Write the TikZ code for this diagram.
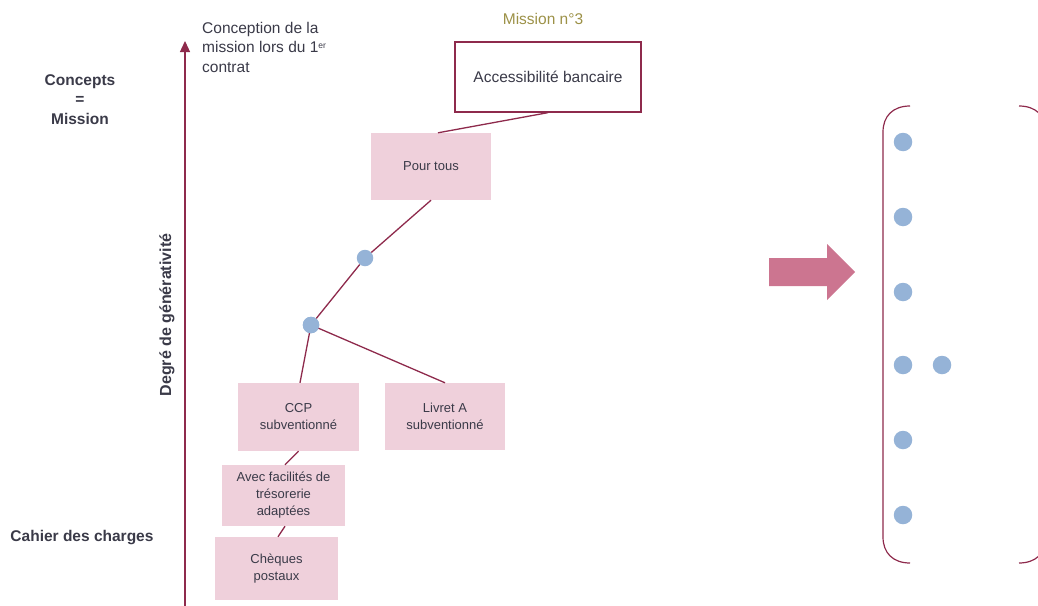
\documentclass[tikz,border=0pt]{standalone}
\usepackage{fontspec}
\setmainfont{Liberation Sans}
\usetikzlibrary{arrows.meta}
\definecolor{maroon}{HTML}{8E2A4C}
\definecolor{pinkfill}{HTML}{EFD0DB}
\definecolor{dotblue}{HTML}{95B3D7}
\definecolor{arrowpink}{HTML}{CC7590}
\definecolor{olivetxt}{HTML}{9C9147}
\definecolor{txt}{HTML}{3A3A48}
\begin{document}
\begin{tikzpicture}[x=1pt,y=-1pt,
  pinkbox/.style={fill=pinkfill, draw=none, inner sep=0pt, align=center,
    font=\fontsize{13}{17}\selectfont, text=txt},
  whitebox/.style={fill=white, draw=maroon, line width=1.3pt, inner sep=0pt, align=center,
    font=\fontsize{15.5}{19.5}\selectfont, text=txt},
  link/.style={draw=maroon, line width=1.3pt},
  treedot/.style={circle, fill=dotblue, inner sep=0pt, minimum size=16.5pt},
  listdot/.style={circle, fill=dotblue, inner sep=0pt, minimum size=18.5pt},
  lbl/.style={inner sep=0pt, text=txt, font=\fontsize{15.5}{19.5}\selectfont},
  boldlbl/.style={inner sep=0pt, text=txt, font=\fontsize{15.5}{19.5}\selectfont\bfseries, align=center}
]
\useasboundingbox (0,0) rectangle (1038,605);
\begin{scope}
\clip (0,0) rectangle (1038,605);

% axis
\coordinate (axbot) at (185,606);
\coordinate (axtop) at (185,41);
\draw[maroon, line width=1.3pt, -{Triangle[width=10pt,length=11pt]}] (axbot) -- (axtop);

% side labels
\node[lbl, anchor=north west, align=left] (concep) at (202,22)
  {Conception de la\\mission lors du 1\raisebox{4.5pt}{\fontsize{8.5}{8.5}\selectfont er}\\contrat};
\node[boldlbl, anchor=north] (concepts) at (80,74) {Concepts\\=\\Mission};
\node[boldlbl, rotate=90] (degre) at (167,315) {\fontsize{16}{19}\selectfont Degré de générativité};
\node[boldlbl] (cahier) at (82,538) {Cahier des charges};
\node[lbl, text=olivetxt] (m3) at (543,19) {Mission n°3};

% tree nodes
\node[whitebox, minimum width=186pt, minimum height=70pt] (acc) at (548,77) {Accessibilité bancaire};
\node[pinkbox, minimum width=120pt, minimum height=67pt] (pour) at (431,166.5) {Pour tous};
\node[treedot] (d1) at (365,258) {};
\node[treedot] (d2) at (311,325) {};
\node[pinkbox, minimum width=121pt, minimum height=68pt] (ccp) at (298.5,417) {CCP\\subventionné};
\node[pinkbox, minimum width=120pt, minimum height=67pt] (livret) at (445,416.5) {Livret A\\subventionné};
\node[pinkbox, minimum width=123pt, minimum height=61pt] (avec) at (283.5,495.5) {Avec facilités de\\trésorerie\\adaptées};
\node[pinkbox, minimum width=123pt, minimum height=63pt] (cheq) at (276.5,568.5) {Chèques\\postaux};

% connectors
\draw[link] (acc.south) -- ([xshift=7pt]pour.north);
\draw[link] (pour.south) -- (d1);
\draw[link] (d1) -- (d2);
\draw[link] (d2.center) -- ([xshift=1.5pt]ccp.north);
\draw[link] (d2.center) -- (livret.north);
\draw[link] (ccp.south) -- ([xshift=1.5pt]avec.north);
\draw[link] ([xshift=1.5pt]avec.south) -- ([xshift=1.5pt]cheq.north);
\node[treedot] at (d2) {};

% big arrow
\fill[arrowpink] (769,258) -- (827,258) -- (827,244) -- (855,272) -- (827,300) -- (827,286) -- (769,286) -- cycle;

% brackets
\draw[maroon, line width=1.2pt] (910,106) .. controls (893,106) and (883,116) .. (883,132)
  -- (883,537) .. controls (883,553) and (893,563) .. (910,563);
\draw[maroon, line width=1.2pt] (1019,106) .. controls (1036,106) and (1046,116) .. (1046,132)
  -- (1046,537) .. controls (1046,553) and (1036,563) .. (1019,563);

% list dots
\node[listdot] (l1) at (903,142) {};
\node[listdot] (l2) at (903,217) {};
\node[listdot] (l3) at (903,292) {};
\node[listdot] (l4) at (903,365) {};
\node[listdot] (l4b) at (942,365) {};
\node[listdot] (l5) at (903,440) {};
\node[listdot] (l6) at (903,515) {};
\end{scope}
\end{tikzpicture}
\end{document}
